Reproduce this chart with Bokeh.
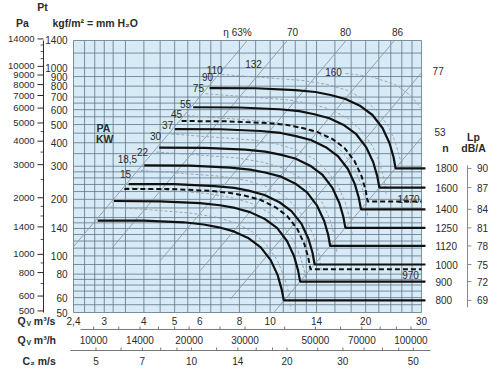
from bokeh.plotting import figure
from bokeh.models import Range1d, LogScale, ColumnDataSource
from bokeh.core.properties import value
from bokeh.embed import file_html
from bokeh.resources import INLINE

FONT = "Liberation Sans"
INK = "#2b2b2b"
GRID = "#5f7384"
DIAG = "#8a98a4"
PWR = "#9aa6b0"
BLUE = "#d7ebf7"

# ---------------- chart ranges / unit relations ----------------
Q_MIN, Q_MAX = 2.4, 30.0          # Qv m3/s, extent of the chart field
P_MIN, P_MAX = 50.0, 1400.0       # Pt mm H2O
PA_PER_MM = 9.81
S_PER_H = 3600
OUTLET_AREA = 0.565               # Qv / C2

# canvas extent in data units (log scales) and positions of the outer scales
X_LO, X_HI = 1.4129, 53.21
Y_LO, Y_HI = 25.18, 2285.0
X_PA_LINE, X_PA_TICK, X_PA_MINOR, X_PA_LAB = 1.930, 1.848, 1.890, 1.808
X_MM_LAB = 2.298
X_NLINE_END, X_N_LAB = 30.87, 33.19
X_LP_LINE, X_LP_TICK, X_LP_LAB = 41.88, 43.1, 46.7
Y_QS_LAB, Y_QS_SUB = 45.33, 43.7
Y_QH_LINE, Y_QH_TICK, Y_QH_LAB, Y_QH_SUB = 40.61, 42.13, 35.91, 34.61
Y_C2_LINE, Y_C2_TICK, Y_C2_LAB = 31.39, 32.56, 27.77
X_QH_LINE = (2.525, 32.0)
X_C2_LINE = (2.348, 32.0)
Y_LP_LINE = (53.2, 303.0)

# ---------------- scale ticks ----------------
q_ticks = [2.4, 3, 4, 5, 6, 8, 10, 14, 20, 30]
q_tick_labels = ["2,4", "3", "4", "5", "6", "8", "10", "14", "20", "30"]
qh_ticks = [10000, 14000, 20000, 30000, 50000, 70000, 100000]
qh_minor = [12000, 16000, 18000, 25000, 40000, 60000, 80000, 90000]
c2_ticks = [5, 7, 10, 14, 20, 30, 50]
c2_minor = [6, 8, 9, 12, 16, 18, 25, 35, 40, 45]
pt_ticks = [50, 60, 80, 100, 140, 200, 300, 400, 500, 600, 700, 800, 900, 1000, 1400]
pa_ticks = [500, 600, 800, 1000, 1400, 2000, 3000, 4000, 5000, 6000, 7000, 8000, 9000, 10000, 14000]
pa_minor = [700, 900, 1200, 1600, 1800, 2500, 3500, 4500, 11000, 12000, 13000]

# ---------------- grid ----------------
grid_q = [2.4, 2.6, 2.8, 3, 3.2, 3.5, 4, 4.5, 5, 5.5, 6, 6.5, 7, 8, 9, 10, 11, 12, 13, 14,
          16, 18, 20, 22, 24, 26, 28, 30]
grid_p = [50, 55, 60, 65, 70, 75, 80, 90, 100, 110, 120, 130, 140, 150, 160, 180, 200, 220,
          240, 260, 280, 300, 350, 400, 450, 500, 550, 600, 650, 700, 800, 900, 1000, 1200, 1400]

# ---------------- fan curves (Qv m3/s, Pt mm H2O) ----------------
speeds = [1800, 1600, 1470, 1400, 1250, 1120, 1000, 970, 900, 800]
dashed_speeds = [1470, 970]
curve_q = {
    1800: [6.44, 8.99, 12.02, 13.89, 15.50, 17.28, 19.26, 21.01, 22.60, 23.77, 24.48, 24.85],
    1600: [5.72, 7.99, 10.68, 12.35, 13.78, 15.36, 17.12, 18.68, 20.09, 21.13, 21.76, 22.09],
    1470: [5.26, 7.34, 9.82, 11.34, 12.66, 14.11, 15.73, 17.16, 18.46, 19.41, 19.99, 20.29],
    1400: [5.01, 6.99, 9.35, 10.80, 12.06, 13.44, 14.98, 16.34, 17.58, 18.49, 19.04, 19.33],
    1250: [4.47, 6.24, 8.35, 9.65, 10.76, 12.0, 13.37, 14.59, 15.69, 16.51, 17.0, 17.26],
    1120: [4.01, 5.59, 7.48, 8.64, 9.64, 10.75, 11.98, 13.07, 14.06, 14.79, 15.23, 15.46],
    1000: [3.58, 4.99, 6.68, 7.72, 8.61, 9.6, 10.7, 11.67, 12.56, 13.21, 13.6, 13.81],
    970: [3.47, 4.84, 6.48, 7.49, 8.35, 9.31, 10.38, 11.32, 12.18, 12.81, 13.19, 13.39],
    900: [3.22, 4.5, 6.01, 6.95, 7.75, 8.64, 9.63, 10.51, 11.3, 11.89, 12.24, 12.43],
    800: [2.86, 4.0, 5.34, 6.17, 6.89, 7.68, 8.56, 9.34, 10.04, 10.56, 10.88, 11.04],
}
curve_p = {
    1800: [782, 780, 763, 745, 718, 684, 627, 562, 479, 399, 336, 292],
    1600: [618, 616, 603, 589, 567, 540, 495, 444, 378, 315, 265, 231],
    1470: [522, 520, 509, 497, 479, 456, 418, 375, 319, 266, 224, 195],
    1400: [473, 472, 462, 451, 434, 414, 379, 340, 290, 241, 203, 177],
    1250: [377, 376, 368, 359, 346, 330, 302, 271, 231, 192, 162, 141],
    1120: [303, 302, 295, 288, 278, 265, 243, 218, 185, 154, 130, 113],
    1000: [241, 241, 235, 230, 222, 211, 193, 173, 148, 123, 104, 90],
    970: [227, 227, 222, 216, 209, 199, 182, 163, 139, 116, 98, 85],
    900: [196, 195, 191, 186, 180, 171, 157, 141, 120, 100, 84, 73],
    800: [154, 154, 151, 147, 142, 135, 124, 111, 95, 79, 66, 58],
}
lp_levels = {1800: 90, 1600: 87, 1400: 84, 1250: 81, 1120: 78, 1000: 75, 900: 72, 800: 69}

# ---------------- absorbed power curves (grey dashed) ----------------
power_q = [
    [7.03, 9.46, 12.65, 15.16, 17.53, 19.83, 21.79, 23.60, 24.83, 25.75, 26.12],
    [6.25, 8.41, 11.24, 13.48, 15.58, 17.63, 19.37, 20.98, 22.07, 22.89, 23.22],
    [5.47, 7.36, 9.84, 11.79, 13.63, 15.42, 16.95, 18.36, 19.31, 20.03, 20.32],
    [4.88, 6.57, 8.78, 10.53, 12.17, 13.77, 15.13, 16.39, 17.24, 17.88, 18.14],
    [4.37, 5.89, 7.87, 9.43, 10.91, 12.34, 13.56, 14.68, 15.45, 16.02, 16.25],
    [3.91, 5.26, 7.03, 8.42, 9.74, 11.02, 12.11, 13.11, 13.80, 14.31, 14.51],
    [3.52, 4.73, 6.33, 7.58, 8.77, 9.92, 10.9, 11.8, 12.42, 12.88, 13.06],
    [3.12, 4.2, 5.62, 6.74, 7.79, 8.81, 9.68, 10.49, 11.03, 11.44, 11.61],
    [17.28, 20.71, 24.83, 27.69, 30.0],
]
power_p = [
    [923, 890, 858, 817, 759, 680, 587, 488, 401, 322, 265],
    [729, 703, 678, 646, 600, 537, 464, 386, 317, 254, 209],
    [558, 538, 519, 494, 459, 411, 355, 295, 243, 195, 160],
    [445, 429, 414, 394, 366, 328, 283, 235, 193, 155, 128],
    [357, 345, 332, 316, 294, 263, 227, 189, 155, 125, 103],
    [285, 275, 265, 252, 234, 210, 181, 151, 124, 99, 82],
    [231, 223, 215, 204, 190, 170, 147, 122, 100, 81, 66],
    [182, 176, 169, 161, 150, 134, 116, 96, 79, 64, 52],
    [935, 901, 817, 714, 609],
]

# ---------------- efficiency lines (straight, Pt ~ Qv^2) ----------------
eff_labels = ["\u03b7 63%", "70", "80", "86", "77", "53"]
eff_q0 = [2.4, 3.185, 4.51, 6.03, 7.50, 10.27]
eff_p0 = [112, 110.8, 94.6, 83.6, 59.0, 50]
eff_q1 = [8.47, 11.32, 17.35, 24.65, 30, 30]
eff_p1 = [1400, 1400, 1400, 1400, 944, 427]
eff_lab_q = [7.89, 11.76, 17.28, 25.2, 32.5, 32.96]
eff_lab_p = [1544, 1544, 1544, 1544, 958, 459]

# ---------------- motor power labels (kW) ----------------
kw_labels = ["110", "90", "75", "55", "45", "37", "30", "22", "18,5", "15", "132", "160"]
kw_q = [6.68, 6.35, 5.94, 5.41, 5.07, 4.75, 4.35, 3.96, 3.55, 3.50, 8.86, 15.84]
kw_p = [981, 890, 778, 647, 572, 500, 432, 355, 326, 274, 1056, 946]

# =====================================================================
p = figure(width=500, height=368, x_range=Range1d(X_LO, X_HI), y_range=Range1d(Y_LO, Y_HI),
           x_axis_location=None, y_axis_location=None,
           output_backend="svg", toolbar_location=None,
           min_border_left=0, min_border_right=0, min_border_top=0, min_border_bottom=0,
           background_fill_color="white", border_fill_color="white", outline_line_color=None)
p.x_scale = LogScale()
p.y_scale = LogScale()
p.grid.visible = False


def txt(xs, ys, labels, size="10px", bold=False, align="center", color=INK):
    src = ColumnDataSource(dict(x=list(xs), y=list(ys), t=list(labels)))
    p.text(x="x", y="y", text="t", source=src, text_font=value(FONT), text_font_size=size,
           text_font_style="bold" if bold else "normal", text_color=color,
           text_align=align, text_baseline="middle")


def segs(x0, x1, y0, y1, color=INK, width=1.0):
    p.segment(x0=list(x0), x1=list(x1), y0=list(y0), y1=list(y1),
              line_color=color, line_width=width)


# chart background
p.quad(left=[Q_MIN], right=[Q_MAX], bottom=[P_MIN], top=[P_MAX], fill_color=BLUE, line_color=None)

# grid
segs(grid_q, grid_q, [P_MIN] * len(grid_q), [P_MAX] * len(grid_q), GRID, 0.8)
segs([Q_MIN] * len(grid_p), [Q_MAX] * len(grid_p), grid_p, grid_p, GRID, 0.8)

# efficiency lines
segs(eff_q0, eff_q1, eff_p0, eff_p1, DIAG, 0.9)

# absorbed power curves
p.multi_line(xs=power_q, ys=power_p, line_color=PWR, line_width=1.0, line_dash="3 2")

# fan curves
for n in speeds:
    qs = curve_q[n]
    ps = curve_p[n]
    if n in dashed_speeds:
        p.line(qs + [Q_MAX], ps + [ps[-1]], line_color="#111111", line_width=2,
               line_dash="5 3")
    else:
        p.line(qs + [X_NLINE_END], ps + [ps[-1]], line_color="#111111", line_width=2.2)

# labels inside the field
txt(kw_q, kw_p, kw_labels)
txt([2.984, 3.01], [482, 421], ["PA", "KW"], "10.5px", True)
txt([27.3, 27.7], [202, 78.7], ["1470", "970"])
txt(eff_lab_q[:4], eff_lab_p[:4], eff_labels[:4])
txt(eff_lab_q[4:], eff_lab_p[4:], eff_labels[4:], align="left")

# ---------------- left scales: Pt in mm H2O and in Pa ----------------
txt([X_MM_LAB] * len(pt_ticks), pt_ticks, [str(t) for t in pt_ticks], align="right")
pa_pos = [t / PA_PER_MM for t in pa_ticks]
pa_minor_pos = [t / PA_PER_MM for t in pa_minor]
segs([X_PA_LINE], [X_PA_LINE], [P_MIN], [P_MAX], INK, 1.0)
segs([X_PA_LINE] * len(pa_pos), [X_PA_TICK] * len(pa_pos), pa_pos, pa_pos, INK, 1.0)
segs([X_PA_LINE] * len(pa_minor_pos), [X_PA_MINOR] * len(pa_minor_pos),
     pa_minor_pos, pa_minor_pos, INK, 0.8)
txt([X_PA_LAB] * len(pa_pos), pa_pos, [str(t) for t in pa_ticks], "9.5px", align="right")
txt([1.917], [2098], ["Pt"], "10.5px", True)
txt([1.658], [1745], ["Pa"], "10.5px", True)
txt([2.061], [1745], ["kgf/m\u00b2 = mm H\u2082O"], "10.5px", True, align="left")

# ---------------- bottom scales ----------------
txt(q_ticks, [Y_QS_LAB] * len(q_ticks), q_tick_labels)

qh_pos = [t / S_PER_H for t in qh_ticks]
qh_all = qh_pos + [t / S_PER_H for t in qh_minor]
segs([X_QH_LINE[0]], [X_QH_LINE[1]], [Y_QH_LINE], [Y_QH_LINE], "#777777", 1.0)
segs(qh_all, qh_all, [Y_QH_LINE] * len(qh_all), [Y_QH_TICK] * len(qh_all), "#777777", 1.0)
txt(qh_pos, [Y_QH_LAB] * len(qh_pos), [str(t) for t in qh_ticks])

c2_pos = [t * OUTLET_AREA for t in c2_ticks]
c2_all = c2_pos + [t * OUTLET_AREA for t in c2_minor]
segs([X_C2_LINE[0]], [X_C2_LINE[1]], [Y_C2_LINE], [Y_C2_LINE], "#777777", 1.0)
segs(c2_all, c2_all, [Y_C2_LINE] * len(c2_all), [Y_C2_TICK] * len(c2_all), "#777777", 1.0)
txt(c2_pos, [Y_C2_LAB] * len(c2_pos), [str(t) for t in c2_ticks])

txt([1.598, 1.598], [Y_QS_LAB, Y_QH_LAB], ["Q", "Q"], "10.5px", True, align="left")
txt([1.706, 1.706], [Y_QS_SUB, Y_QH_SUB], ["V", "V"], "7px", True, align="left")
txt([1.80], [Y_QS_LAB], ["m\u00b3/s"], "10.5px", True, align="left")
txt([1.80], [Y_QH_LAB], ["m\u00b3/h"], "10.5px", True, align="left")
txt([1.658], [Y_C2_LAB], ["C\u2082 m/s"], "10.5px", True, align="left")

# ---------------- right scales: speed n and sound level Lp ----------------
solid = [n for n in speeds if n not in dashed_speeds]
end_p = [curve_p[n][-1] for n in solid]
txt([X_N_LAB] * len(end_p), end_p, [str(n) for n in solid], align="left")
segs([X_LP_LINE], [X_LP_LINE], [Y_LP_LINE[0]], [Y_LP_LINE[1]], "#888888", 1.0)
segs([X_LP_LINE] * len(end_p), [X_LP_TICK] * len(end_p), end_p, end_p, "#888888", 1.0)
txt([X_LP_LAB] * len(end_p), end_p, [str(lp_levels[n]) for n in solid])
txt([35.7], [373], ["n"], "10.5px", True)
txt([43.75, 43.75], [427, 373], ["Lp", "dB/A"], "10.5px", True)

open("out.html", "w").write(file_html(p, INLINE))
